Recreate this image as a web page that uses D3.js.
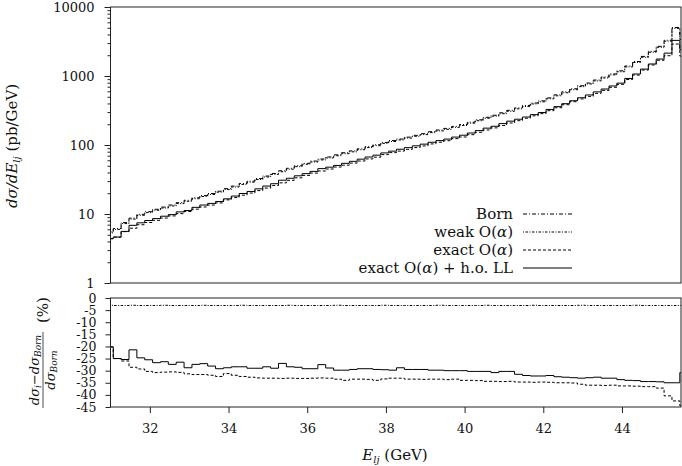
<!DOCTYPE html>
<html>
<head>
<meta charset="utf-8">
<script src="https://cdn.jsdelivr.net/npm/d3@7"></script>
<style>
body{margin:0;background:#fff;}
svg text{font-family:"DejaVu Serif",serif;fill:#111;}
</style>
</head>
<body>
<svg id="chart" width="682" height="466"></svg>
<script>
// histogram bins, 0.2 GeV wide
var binStart=30.87, binWidth=0.2;

// dsigma/dE (pb/GeV), one value per bin
var born=[5.5,6.17,7.5,8.71,9.89,10.8,11.7,12.6,13.5,14.6,
 15.8,17.2,18.5,19.8,21.4,23.3,25.4,27.7,29.9,32.6,
 35.5,38.7,42.3,46.0,50.1,54.3,58.5,62.7,67.1,72.1,
 77.3,82.2,88.1,94.6,101,109,116,122,130,138,
 146,156,165,174,186,198,214,232,252,270,
 293,318,345,374,406,436,482,533,590,653,
 723,791,875,968,1072,1189,1396,1622,1923,2280,
 2692,3300,5050,3500];
var weak=[5.33,5.98,7.27,8.44,9.58,10.47,11.34,12.21,13.08,14.15,
 15.31,16.67,17.93,19.19,20.74,22.58,24.61,26.84,28.97,31.59,
 34.40,37.50,40.99,44.57,48.55,52.62,56.69,60.76,65.02,69.86,
 74.90,79.65,85.37,91.67,97.87,105.6,112.4,118.2,126.0,133.7,
 141.5,151.2,159.9,168.6,180.2,191.9,207.4,224.8,244.2,261.6,
 283.9,308.1,334.3,362.4,393.4,422.5,467.1,516.5,571.7,632.8,
 700.6,766.5,847.9,938.0,1038.8,1152.1,1352.7,1571.7,1863.4,2209.3,
 2608.5,3197.7,4893.5,3391.5];
var exact=[4.39,4.63,5.55,6.22,6.99,7.53,8.10,8.74,9.38,10.12,
 10.85,11.76,12.65,13.48,14.47,16.03,17.30,18.73,20.12,21.84,
 23.75,25.89,28.26,30.77,33.47,36.27,39.14,42.01,44.89,47.95,
 51.02,54.66,58.59,62.81,66.66,72.59,77.60,81.62,86.45,91.77,
 96.94,103.7,109.7,115.4,123.7,130.7,141.2,152.9,165.3,177.1,
 191.9,208.6,225.3,244.2,264.7,284.7,314.3,346.5,383.5,423.8,
 465.6,506.2,560.0,618.6,686.1,757.4,889.3,1031.6,1219.2,1445.5,
 1690.6,1966.8,2903.8,1942.5];
var hoLL=[4.39,4.63,5.60,6.85,7.45,8.05,8.58,9.29,9.80,10.73,
 11.25,12.49,13.49,14.24,15.15,16.59,18.19,19.83,21.23,23.15,
 25.42,27.48,30.88,32.94,35.77,38.44,41.42,45.46,47.71,50.61,
 54.26,57.95,62.37,66.98,71.21,76.74,81.43,86.86,91.65,97.29,
 102.9,109.5,115.8,121.8,130.2,138.6,149.2,161.7,175.6,186.8,
 204.2,221.6,236.3,254.3,275.3,295.6,327.8,359.8,397.1,438.2,
 483.7,530.8,588.9,647.6,717.2,788.3,921.4,1068.9,1259.6,1493.4,
 1760.6,2145,3282.5,2422];

// relative corrections in %
var weakRel=[-3.0,-3.1,-3.1,-3.0,-3.1,-3.1,-3.1,-3.0,-3.1,-3.1,
 -3.1,-3.1,-3.0,-3.1,-3.1,-3.1,-3.1,-3.0,-3.1,-3.1,
 -3.1,-3.1,-3.1,-3.0,-3.1,-3.1,-3.1,-3.1,-3.1,-3.0,
 -3.1,-3.1,-3.1,-3.1,-3.1,-3.0,-3.1,-3.1,-3.1,-3.1,
 -3.1,-3.1,-3.0,-3.1,-3.1,-3.1,-3.1,-3.1,-3.0,-3.1,
 -3.1,-3.1,-3.1,-3.1,-3.0,-3.1,-3.1,-3.1,-3.1,-3.1,
 -3.0,-3.1,-3.1,-3.1,-3.1,-3.1,-3.1,-3.0,-3.1,-3.1,
 -3.1,-3.1,-3.1,-3.1];
var exactRel=[-20.2,-25.0,-26.0,-28.6,-29.3,-30.3,-30.8,-30.6,-30.5,-30.7,
 -31.3,-31.6,-31.6,-31.9,-32.4,-31.2,-31.9,-32.4,-32.7,-33.0,
 -33.1,-33.1,-33.2,-33.1,-33.2,-33.2,-33.1,-33.0,-33.1,-33.5,
 -34.0,-33.5,-33.5,-33.6,-34.0,-33.4,-33.1,-33.1,-33.5,-33.5,
 -33.6,-33.5,-33.5,-33.7,-33.5,-34.0,-34.0,-34.1,-34.4,-34.4,
 -34.5,-34.4,-34.7,-34.7,-34.8,-34.7,-34.8,-35.0,-35.0,-35.1,
 -35.6,-36.0,-36.0,-36.1,-36.0,-36.3,-36.3,-36.4,-36.6,-36.6,
 -37.2,-40.4,-42.5,-44.5];
var hoLLRel=[-20.2,-25.0,-25.4,-21.4,-24.7,-25.5,-26.7,-26.3,-27.4,-26.5,
 -28.8,-27.4,-27.1,-28.1,-29.2,-28.8,-28.4,-28.4,-29.0,-29.0,
 -28.4,-29.0,-27.0,-28.4,-28.6,-29.2,-29.2,-27.5,-28.9,-29.8,
 -29.8,-29.5,-29.2,-29.2,-29.5,-29.6,-29.8,-28.8,-29.5,-29.5,
 -29.5,-29.8,-29.8,-30.0,-30.0,-30.0,-30.3,-30.3,-30.3,-30.8,
 -30.3,-30.3,-31.5,-32.0,-32.2,-32.2,-32.0,-32.5,-32.7,-32.9,
 -33.1,-32.9,-32.7,-33.1,-33.1,-33.7,-34.0,-34.1,-34.5,-34.5,
 -34.6,-35.0,-35.0,-30.8];

var xTicks=[32,34,36,38,40,42,44];
var yTopTicks=[1,10,100,1000,10000];
var yBotTicks=[0,-5,-10,-15,-20,-25,-30,-35,-40,-45];
var legendNames=["Born","weak O(α)","exact O(α)","exact O(α) + h.o. LL"];

var dash={born:"4,2,1,2",weak:"1,1.5,2.5,1.5",exact:"3,2",hoLL:null};

var svg=d3.select("#chart");
var L=110.5,R=681,T1=7,B1=283,T2=298,B2=407;

var x=d3.scaleLinear().domain([31,45.5]).range([L,R]);
var yTop=d3.scaleLog().domain([1,10000]).range([B1,T1]);
var yBot=d3.scaleLinear().domain([-45,0]).range([B2,T2]);

var defs=svg.append("defs");
defs.append("clipPath").attr("id","clipTop").append("rect")
    .attr("x",L).attr("y",T1).attr("width",R-L).attr("height",B1-T1);
defs.append("clipPath").attr("id","clipBot").append("rect")
    .attr("x",L).attr("y",T2).attr("width",R-L).attr("height",B2-T2);

function stepPoints(vals){
	var pts=vals.map(function(v,i){return {e:binStart+i*binWidth,v:v};});
	pts.push({e:binStart+vals.length*binWidth,v:vals[vals.length-1]});
	return pts;
}

function drawHist(g,vals,yScale,dasharray){
	var line=d3.line().curve(d3.curveStepAfter)
	           .x(function(d){return x(d.e);})
	           .y(function(d){return yScale(d.v);});
	g.append("path")
	 .attr("d",line(stepPoints(vals)))
	 .attr("fill","none")
	 .attr("stroke","#000")
	 .attr("stroke-width",1)
	 .attr("stroke-dasharray",dasharray);
}

// top panel
var gTop=svg.append("g").attr("clip-path","url(#clipTop)");
drawHist(gTop,born,yTop,dash.born);
drawHist(gTop,weak,yTop,dash.weak);
drawHist(gTop,exact,yTop,dash.exact);
drawHist(gTop,hoLL,yTop,dash.hoLL);

// bottom panel
var gBot=svg.append("g").attr("clip-path","url(#clipBot)");
drawHist(gBot,weakRel,yBot,dash.weak);
drawHist(gBot,exactRel,yBot,dash.exact);
drawHist(gBot,hoLLRel,yBot,dash.hoLL);

// frames
svg.append("rect").attr("x",L).attr("y",T1).attr("width",R-L).attr("height",B1-T1)
   .attr("fill","none").attr("stroke","#222").attr("stroke-width",1);
svg.append("rect").attr("x",L).attr("y",T2).attr("width",R-L).attr("height",B2-T2)
   .attr("fill","none").attr("stroke","#222").attr("stroke-width",1);

// top y axis: decades labelled, minor ticks in between
var minor=[];
yTopTicks.slice(0,-1).forEach(function(d){
	for(var m=2;m<10;m++) minor.push(d*m);
});
svg.append("g").attr("transform","translate("+L+",0)")
   .call(d3.axisLeft(yTop).tickValues(yTopTicks).tickFormat(d3.format("d")).tickSize(6).tickPadding(10));
svg.append("g").attr("transform","translate("+L+",0)")
   .call(d3.axisLeft(yTop).tickValues(minor).tickFormat("").tickSize(3));

var axBot=svg.append("g").attr("transform","translate("+L+",0)")
   .call(d3.axisLeft(yBot).tickValues(yBotTicks).tickFormat(function(d){return String(d);}).tickSize(5).tickPadding(9));

svg.append("g").attr("transform","translate(0,"+B2+")")
   .call(d3.axisBottom(x).tickValues(xTicks).tickFormat(d3.format("d")).tickSize(6).tickPadding(11));

svg.selectAll(".domain").remove();
svg.selectAll(".tick line").attr("stroke","#222");
svg.selectAll(".tick text").style("font-size","13px").attr("fill","#111");
axBot.selectAll(".tick text").style("font-size","12.5px");

// legend
var lg=svg.append("g");
var legendStyles=[dash.born,dash.weak,dash.exact,dash.hoLL];
legendNames.forEach(function(name,i){
	var yy=214+i*18;
	var t=lg.append("text").attr("x",513).attr("y",yy+5)
	        .attr("text-anchor","end").style("font-size","15px");
	var parts=name.split("α");
	t.append("tspan").text(parts[0]);
	if(parts.length>1){
		t.append("tspan").attr("font-style","italic").text("α");
		t.append("tspan").text(parts[1]);
	}
	lg.append("line").attr("x1",523).attr("x2",572).attr("y1",yy).attr("y2",yy)
	  .attr("stroke","#000").attr("stroke-width",1)
	  .attr("stroke-dasharray",legendStyles[i]);
});

// x label
var xl=svg.append("text").attr("x",395).attr("y",460).attr("text-anchor","middle").style("font-size","15px");
xl.append("tspan").attr("font-style","italic").text("E");
xl.append("tspan").attr("font-style","italic").attr("dy",3).style("font-size","10px").text("lj");
xl.append("tspan").attr("dy",-3).text(" (GeV)");

// top y label
var yl=svg.append("text").attr("transform","translate(17,146) rotate(-90)")
   .attr("text-anchor","middle").style("font-size","15px");
yl.append("tspan").attr("font-style","italic").text("dσ/dE");
yl.append("tspan").attr("font-style","italic").attr("dy",3).style("font-size","10px").text("lj");
yl.append("tspan").attr("dy",-3).text(" (pb/GeV)");

// bottom y label (fraction)
var fr=svg.append("g").attr("transform","translate(43,370) rotate(-90)");
var num=fr.append("text").attr("x",0).attr("y",-4).attr("text-anchor","middle").style("font-size","13px");
num.append("tspan").attr("font-style","italic").text("dσ");
num.append("tspan").attr("font-style","italic").attr("dy",2).style("font-size","9px").text("i");
num.append("tspan").attr("dy",-2).text("−");
num.append("tspan").attr("font-style","italic").text("dσ");
num.append("tspan").attr("font-style","italic").attr("dy",2).style("font-size","9px").text("Born");
fr.append("line").attr("x1",-38).attr("x2",38).attr("y1",0).attr("y2",0)
  .attr("stroke","#222").attr("stroke-width",0.8);
var den=fr.append("text").attr("x",0).attr("y",12).attr("text-anchor","middle").style("font-size","13px");
den.append("tspan").attr("font-style","italic").text("dσ");
den.append("tspan").attr("font-style","italic").attr("dy",2).style("font-size","9px").text("Born");
fr.append("text").attr("x",60).attr("y",5).attr("text-anchor","middle").style("font-size","15px").text("(%)");
</script>
</body>
</html>
